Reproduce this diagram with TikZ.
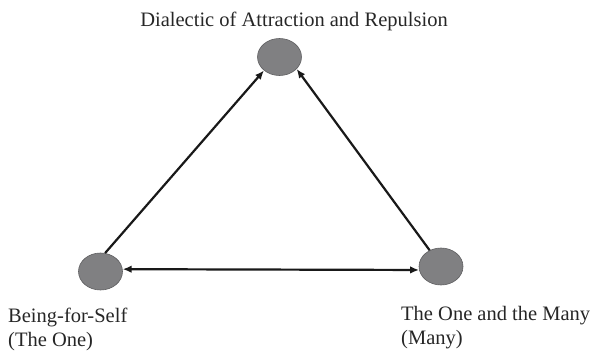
\documentclass[tikz,border=0pt]{standalone}
\usepackage{fontspec}
\setmainfont{Liberation Serif}
\usetikzlibrary{positioning,arrows.meta,shapes.geometric}
\definecolor{dotfill}{RGB}{128,128,130}
\definecolor{dotline}{RGB}{95,95,97}

\begin{document}
\begin{tikzpicture}[x=1pt,y=-1pt,>={Latex[length=9pt,width=7.5pt]},
  dot/.style={ellipse,inner sep=0pt,minimum width=44pt,minimum height=37pt,fill=dotfill,draw=dotline,line width=0.6pt},
  lab/.style={inner sep=0pt,font=\fontsize{20.5}{24}\selectfont,text=black!85},
  link/.style={line width=2.2pt,black!90}]
\useasboundingbox (0,0) rectangle (593,352);
% the three moments
\node[dot] (t) at (279.5,57) {};
\node[dot] (l) at (100.5,271.5) {};
\node[dot] (r) at (441,266.5) {};
% labels
\node[lab,anchor=base] (tl) at (294,27) {Dialectic of Attraction and Repulsion};
\node[lab,anchor=north west,align=left] (ll) at (8,308) {Being-for-Self\\(The One)};
\node[lab,anchor=north west,align=left] (rl) at (401,306) {The One and the Many\\(Many)};
% transitions
\draw[link,->] (l.76) -- (t.221);
\draw[link,->] (r.125) -- (t.325);
\draw[link,<->] (l.6) -- (r.189);
\end{tikzpicture}
\end{document}
